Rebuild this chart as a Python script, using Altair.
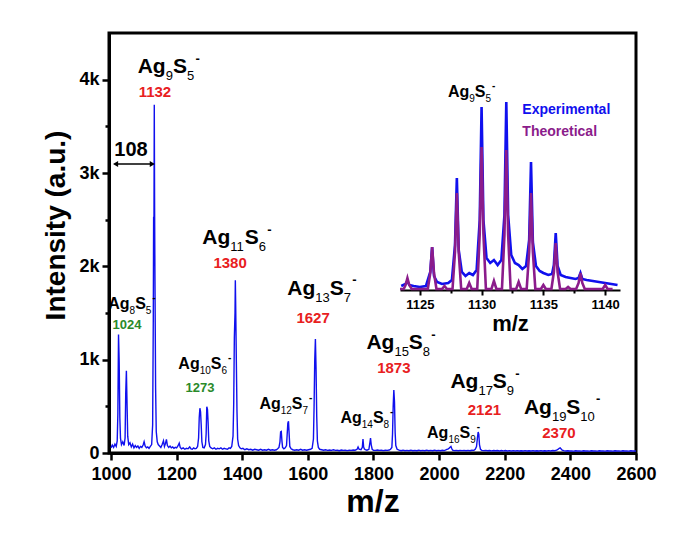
import altair as alt
import pandas as pd

# ---------------- main spectrum (m/z, intensity) ----------------
mz = [1000, 1004, 1008, 1012, 1016, 1019, 1021, 1023, 1025, 1027, 1029, 1032, 1036, 1040,
      1043, 1045, 1047, 1049, 1051, 1054, 1058, 1062, 1066, 1070, 1074, 1078, 1082, 1086,
      1090, 1094, 1098, 1101, 1104, 1108, 1112, 1116, 1120, 1124, 1127, 1129, 1130, 1131,
      1132, 1133, 1134, 1136, 1138, 1141, 1144, 1148, 1152, 1156, 1160, 1163, 1166, 1169,
      1172, 1176, 1180, 1184, 1188, 1192, 1196, 1200, 1204, 1208, 1211, 1215, 1220, 1225,
      1230, 1235, 1240, 1244, 1248, 1252, 1256, 1260, 1264, 1267, 1269, 1271, 1273, 1275,
      1277, 1280, 1284, 1288, 1290, 1292, 1294, 1296, 1298, 1301, 1305, 1310, 1315, 1320,
      1325, 1330, 1335, 1340, 1345, 1350, 1355, 1360, 1364, 1368, 1372, 1374, 1376, 1378,
      1379, 1380, 1382, 1384, 1386, 1389, 1393, 1397, 1402, 1408, 1414, 1420, 1426, 1432,
      1438, 1444, 1450, 1456, 1462, 1468, 1474, 1480, 1486, 1492, 1498, 1504, 1508, 1512,
      1515, 1517, 1519, 1521, 1523, 1527, 1531, 1535, 1537, 1539, 1541, 1543, 1545, 1549,
      1554, 1560, 1566, 1572, 1578, 1584, 1590, 1596, 1602, 1608, 1613, 1617, 1619, 1621,
      1623, 1625, 1627, 1629, 1632, 1636, 1642, 1648, 1654, 1660, 1666, 1672, 1678, 1684,
      1690, 1696, 1702, 1708, 1714, 1720, 1726, 1732, 1738, 1744, 1750, 1753, 1756, 1762,
      1766, 1768, 1770, 1772, 1775, 1780, 1786, 1789, 1791, 1793, 1796, 1800, 1806, 1812,
      1818, 1824, 1830, 1836, 1842, 1848, 1852, 1856, 1858, 1860, 1862, 1864, 1866, 1868,
      1872, 1878, 1884, 1890, 1896, 1902, 1908, 1914, 1920, 1926, 1932, 1938, 1944, 1950,
      1956, 1962, 1968, 1974, 1980, 1986, 1992, 1998, 2004, 2010, 2016, 2022, 2028, 2032,
      2034, 2036, 2038, 2041, 2046, 2052, 2058, 2064, 2070, 2076, 2082, 2088, 2094, 2100,
      2106, 2110, 2114, 2117, 2119, 2121, 2123, 2126, 2130, 2136, 2142, 2148, 2154, 2160,
      2166, 2172, 2178, 2184, 2190, 2196, 2202, 2208, 2214, 2220, 2226, 2232, 2238, 2244,
      2250, 2256, 2262, 2268, 2274, 2280, 2286, 2292, 2298, 2304, 2310, 2316, 2322, 2328,
      2334, 2340, 2346, 2352, 2358, 2362, 2366, 2369, 2372, 2375, 2380, 2386, 2392, 2398,
      2404, 2410, 2416, 2422, 2428, 2434, 2440, 2446, 2452, 2458, 2464, 2470, 2476, 2482,
      2488, 2494, 2500, 2506, 2512, 2518, 2524, 2530, 2536, 2542, 2548, 2554, 2560, 2566,
      2572, 2578, 2584, 2590, 2596, 2600]
intensity = [55, 85, 60, 95, 70, 130, 420, 1270, 980, 380, 160, 90, 120, 80,
             160, 640, 880, 520, 180, 90, 110, 65, 95, 55, 80, 60, 75, 50,
             70, 60, 85, 120, 75, 55, 65, 50, 70, 90, 300, 1450, 2530, 2450,
             3730, 2600, 1900, 700, 230, 120, 90, 75, 60, 90, 130, 70, 100, 145,
             80, 60, 75, 55, 65, 50, 60, 55, 75, 105, 60, 45, 55, 40,
             50, 45, 65, 45, 40, 55, 45, 50, 70, 160, 380, 480, 440, 300,
             120, 60, 55, 90, 200, 495, 470, 330, 130, 70, 55, 45, 55, 40,
             50, 45, 55, 40, 50, 45, 40, 55, 50, 70, 180, 520, 1240, 1500,
             1850, 1600, 1000, 450, 150, 80, 55, 45, 50, 35, 45, 35, 40, 30,
             40, 35, 30, 40, 30, 35, 30, 40, 30, 35, 30, 35, 45, 60,
             120, 225, 230, 130, 60, 45, 55, 80, 200, 320, 340, 200, 70, 45,
             35, 30, 35, 30, 40, 30, 35, 30, 35, 40, 50, 150, 500, 1000,
             1220, 900, 400, 130, 60, 40, 35, 30, 35, 28, 32, 28, 35, 28,
             30, 25, 32, 28, 30, 26, 30, 28, 32, 30, 40, 65, 40, 35,
             60, 150, 65, 45, 35, 30, 40, 110, 160, 90, 40, 30, 28, 32,
             28, 30, 26, 30, 28, 32, 40, 60, 200, 500, 675, 550, 220, 80,
             40, 30, 25, 30, 24, 28, 25, 30, 24, 28, 25, 30, 24, 28,
             25, 30, 24, 28, 25, 30, 24, 28, 25, 30, 26, 35, 45, 55,
             65, 70, 50, 30, 26, 28, 24, 28, 25, 28, 24, 28, 25, 30,
             28, 40, 70, 170, 225, 200, 90, 40, 28, 25, 28, 24, 27, 23,
             27, 24, 26, 22, 26, 23, 26, 22, 25, 22, 25, 22, 25, 21,
             24, 22, 25, 21, 24, 22, 25, 21, 24, 22, 25, 21, 24, 22,
             25, 22, 26, 24, 30, 38, 50, 55, 42, 30, 25, 22, 24, 21,
             23, 20, 24, 21, 23, 20, 24, 21, 23, 20, 24, 21, 23, 20,
             24, 21, 23, 20, 24, 21, 23, 20, 24, 21, 23, 20, 24, 21,
             23, 20, 24, 21, 23, 20]

# ---------------- annotations (data coordinates) ----------------
# cluster formulas Ag_n S_m^-  (n, m)
big_ag = ["9", "11", "13", "15", "17", "19"]
big_s = ["5", "6", "7", "8", "9", "10"]
big_mz = [1176, 1384, 1643, 1884, 2140, 2375]
big_int = [4071, 2239, 1693, 1114, 695, 418]

small_ag = ["8", "10", "12", "14", "16"]
small_s = ["5", "6", "7", "8", "9"]
small_mz = [1064, 1286, 1533, 1780, 2044]
small_int = [1543, 900, 471, 321, 165]

red_labels = ["1132", "1380", "1627", "1873", "2121", "2370"]
red_mz = [1134, 1363, 1616, 1862, 2138, 2365]
red_int = [3868, 2036, 1446, 911, 458, 214]

green_labels = ["1024", "1273"]
green_mz = [1049, 1271]
green_int = [1371, 696]

spacing_label = ["108"]
spacing_mz = [1061]
spacing_int = [3246]
arrow_start, arrow_end, arrow_int = 1012, 1128, 3096

# ---------------- inset: Ag9S5- isotope pattern ----------------
exp_mz = [1123.5, 1123.85, 1124, 1124.15, 1124.5, 1125, 1125.5, 1125.85, 1126, 1126.15, 1126.4,
          1126.8, 1127.3, 1127.6, 1127.85, 1128, 1128.15, 1128.4, 1128.7, 1129, 1129.3, 1129.6,
          1129.85, 1130, 1130.15, 1130.4, 1130.7, 1131, 1131.3, 1131.6, 1131.85, 1132, 1132.15,
          1132.4, 1132.7, 1133, 1133.3, 1133.6, 1133.85, 1134, 1134.15, 1134.4, 1134.7, 1135,
          1135.4, 1135.7, 1135.85, 1136, 1136.15, 1136.4, 1136.8, 1137.2, 1137.6, 1137.85, 1138,
          1138.15, 1138.5, 1139, 1139.5, 1140, 1140.5, 1141]
exp_int = [4, 6, 9, 5, 4, 3, 4, 18, 43, 14, 8,
           6, 7, 10, 45, 112, 40, 18, 14, 17, 15, 20,
           70, 183, 70, 32, 27, 30, 25, 30, 75, 188, 75,
           35, 27, 25, 21, 24, 50, 128, 48, 24, 19, 17,
           15, 16, 25, 57, 24, 15, 13, 12, 11, 12, 17,
           11, 10, 9, 8, 7, 6, 5]
theo_mz = [1123.4, 1123.7, 1123.85, 1124, 1124.15, 1124.35, 1125.65, 1125.85, 1126, 1126.15,
           1126.35, 1126.8, 1127, 1127.2, 1127.65, 1127.85, 1128, 1128.15, 1128.35, 1128.8,
           1129, 1129.2, 1129.65, 1129.85, 1130, 1130.15, 1130.35, 1130.8, 1131, 1131.2,
           1131.65, 1131.85, 1132, 1132.15, 1132.35, 1132.8, 1133, 1133.2, 1133.65, 1133.85,
           1134, 1134.15, 1134.35, 1134.8, 1135, 1135.2, 1135.65, 1135.85, 1136, 1136.15,
           1136.35, 1136.8, 1137, 1137.2, 1137.65, 1137.85, 1138, 1138.15, 1138.35, 1139.8,
           1140, 1140.2, 1140.6]
theo_int = [1, 1, 5, 12, 5, 1, 1, 17, 43, 17,
            1, 1, 4, 1, 1, 38, 97, 38, 1, 1,
            7, 1, 1, 56, 143, 56, 1, 1, 9, 1,
            1, 55, 140, 55, 1, 1, 8, 1, 1, 38,
            97, 38, 1, 1, 5, 1, 1, 18, 47, 18,
            1, 1, 3, 1, 1, 7, 17, 7, 1, 1,
            5, 1, 1]
inset_ag, inset_s = ["9"], ["5"]
inset_title_mz, inset_title_int = [1129.2], [193]
legend_labels = ["Experimental", "Theoretical"]
legend_mz = [1133.3, 1133.3]
legend_int = [180, 158]

FONT = "Liberation Sans"
BLUE = "#1010EE"
PURPLE = "#8B1C8B"
RED = "#E8201E"
GREEN = "#2A8A2A"

# ---------------- main panel ----------------
spec_df = pd.DataFrame({"mz": mz, "intensity": intensity})

x_main = alt.X(
    "mz:Q",
    scale=alt.Scale(domain=[994, 2600], nice=False, zero=False),
    axis=alt.Axis(
        title="m/z",
        values=list(range(1000, 2601, 100)),
        format="d",
        labelExpr="datum.value % 200 === 0 ? datum.label : ''",
        tickSize={"condition": {"test": "datum.value % 200 === 0", "value": 7}, "value": 4},
        labelFontSize=18,
        labelPadding=5,
        labelFlush=False,
        titleFontSize=32,
        titlePadding=3,
        orient="bottom",
    ),
)
y_main = alt.Y(
    "intensity:Q",
    scale=alt.Scale(domain=[0, 4500], nice=False),
    axis=alt.Axis(
        title="Intensity (a.u.)",
        values=list(range(0, 4001, 500)),
        labelExpr="datum.value === 0 ? '0' : (datum.value % 1000 === 0 ? (datum.value / 1000) + 'k' : '')",
        tickSize={"condition": {"test": "datum.value % 1000 === 0", "value": 7}, "value": 4},
        labelFontSize=18,
        labelPadding=3,
        labelFlush=False,
        titleFontSize=28,
        titlePadding=8,
        titleY=192,
        orient="left",
    ),
)

spectrum = alt.Chart(spec_df).mark_line(color=BLUE, strokeWidth=1.4, clip=True).encode(
    x=x_main, y=y_main
)


def text_layer(labels, xs, ys, size, color, baseline="middle", align="center"):
    df = pd.DataFrame({"label": labels, "mz": xs, "intensity": ys})
    return alt.Chart(df).mark_text(
        font=FONT, fontWeight="bold", fontSize=size, color=color,
        baseline=baseline, align=align
    ).encode(x="mz:Q", y="intensity:Q", text="label:N")


def formula_layers(ag_list, s_list, xs, ys, size):
    """Ag_n S_m ^-  drawn as main text + subscripts + superscript minus."""
    sub = round(size * 0.64)
    layers = []
    for ag, s, x, y in zip(ag_list, s_list, xs, ys):
        df = pd.DataFrame({"mz": [x], "intensity": [y]})
        w_ag = 1.333 * size
        w_n1 = 0.556 * sub * len(ag)
        w_s = 0.667 * size
        w_n2 = 0.556 * sub * len(s)
        gap = 0.06 * size
        w_m = 0.333 * sub
        total = w_ag + w_n1 + w_s + w_n2 + gap + w_m
        x0 = -total / 2
        parts = [
            ("Ag", x0, 0, size, "bold"),
            (ag, x0 + w_ag, 0.34 * size, sub, "normal"),
            ("S", x0 + w_ag + w_n1, 0, size, "bold"),
            (s, x0 + w_ag + w_n1 + w_s, 0.34 * size, sub, "normal"),
            ("-", x0 + w_ag + w_n1 + w_s + w_n2 + gap, -0.5 * size, sub, "bold"),
        ]
        for txt, dx, dy, fs, fw in parts:
            layers.append(
                alt.Chart(df).mark_text(
                    text=txt, font=FONT, fontSize=fs, fontWeight=fw, color="black",
                    align="left", baseline="alphabetic", dx=dx, dy=dy
                ).encode(x="mz:Q", y="intensity:Q")
            )
    return layers


big_text = formula_layers(big_ag, big_s, big_mz, big_int, 21)
small_text = formula_layers(small_ag, small_s, small_mz, small_int, 16)
red_text = text_layer(red_labels, red_mz, red_int, 15, RED)
green_text = text_layer(green_labels, green_mz, green_int, 13, GREEN)
spacing_text = text_layer(spacing_label, spacing_mz, spacing_int, 20, "black")

arrow_df = pd.DataFrame({"x1": [arrow_start], "x2": [arrow_end], "y": [arrow_int]})
arrow_line = alt.Chart(arrow_df).mark_rule(color="black", strokeWidth=1.5).encode(
    x="x1:Q", x2="x2:Q", y="y:Q"
)
head_df = pd.DataFrame({"mz": [arrow_start + 2, arrow_end - 2], "intensity": [arrow_int] * 2,
                        "shape": ["triangle-left", "triangle-right"]})
arrow_heads = alt.Chart(head_df).mark_point(filled=True, color="black", size=35, opacity=1).encode(
    x="mz:Q", y="intensity:Q",
    shape=alt.Shape("shape:N", scale=None, legend=None),
)

main = alt.layer(spectrum, arrow_line, arrow_heads, spacing_text,
                 *big_text, *small_text, red_text, green_text)

# ---------------- inset panel ----------------
exp_df = pd.DataFrame({"mz": exp_mz, "intensity": exp_int})
theo_df = pd.DataFrame({"mz": theo_mz, "intensity": theo_int})

x_inset = alt.X(
    "mz:Q",
    scale=alt.Scale(domain=[1123.4, 1141.2], range=[291, 511], nice=False, zero=False),
    axis=alt.Axis(
        title="m/z",
        orient="bottom",
        offset=-163,
        values=[1125, 1127.5, 1130, 1132.5, 1135, 1137.5, 1140],
        format="d",
        labelExpr="datum.value % 5 === 0 ? datum.label : ''",
        tickSize={"condition": {"test": "datum.value % 5 === 0", "value": 5}, "value": 3},
        domainWidth=2,
        tickWidth=2,
        labelFontSize=13,
        labelPadding=3,
        labelFlush=False,
        titleFontSize=22,
        titlePadding=2,
    ),
)
y_inset = alt.Y("intensity:Q", scale=alt.Scale(domain=[0, 200], range=[257, 57], nice=False),
                axis=None)

exp_line = alt.Chart(exp_df).mark_line(color=BLUE, strokeWidth=2.6).encode(x=x_inset, y=y_inset)
theo_line = alt.Chart(theo_df).mark_line(color=PURPLE, strokeWidth=2.6).encode(x="mz:Q", y="intensity:Q")

ins_title = formula_layers(inset_ag, inset_s, inset_title_mz, inset_title_int, 16)
leg_exp = text_layer(legend_labels[:1], legend_mz[:1], legend_int[:1], 14, BLUE, align="left")
leg_theo = text_layer(legend_labels[1:], legend_mz[1:], legend_int[1:], 14, PURPLE, align="left")

inset = alt.layer(exp_line, theo_line, *ins_title, leg_exp, leg_theo)

chart = alt.layer(main, inset).resolve_scale(x="independent", y="independent").properties(
    width=527,
    height=420,
    autosize=alt.AutoSizeParams(type="none"),
    padding={"left": 101, "top": 25, "right": 40, "bottom": 70},
).configure_view(
    stroke="black", strokeWidth=3
).configure_axis(
    grid=False,
    domainColor="black",
    domainWidth=3,
    tickColor="black",
    tickWidth=2.5,
    labelFont=FONT,
    labelFontWeight="bold",
    labelColor="black",
    titleFont=FONT,
    titleFontWeight="bold",
    titleColor="black",
)

chart.save("out.html", embed_options={"renderer": "svg", "actions": False})
